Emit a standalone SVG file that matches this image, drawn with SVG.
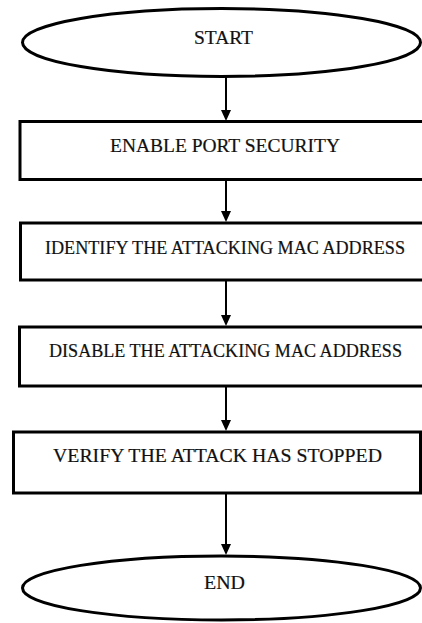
<svg xmlns="http://www.w3.org/2000/svg" width="422" height="623" viewBox="0 0 422 623">
<style>
.shape{fill:#fff;stroke:#000;stroke-width:3}
.lbl{font-family:"Liberation Serif","Times New Roman",serif;font-size:19px;fill:#111;stroke:#111;stroke-width:0.2;text-anchor:middle}
.conn{stroke:#000;stroke-width:2;fill:none}
.head{fill:#000}
</style>
<rect width="422" height="623" fill="#fff"/>
<g id="connectors">
<line class="conn" x1="226" y1="77" x2="226" y2="112"/>
<path class="head" d="M221,110 L231,110 L226,121 Z"/>
<line class="conn" x1="226" y1="180" x2="226" y2="213"/>
<path class="head" d="M221,211 L231,211 L226,222 Z"/>
<line class="conn" x1="226" y1="280" x2="226" y2="317"/>
<path class="head" d="M221,315 L231,315 L226,326 Z"/>
<line class="conn" x1="226" y1="386" x2="226" y2="422"/>
<path class="head" d="M221,420 L231,420 L226,431 Z"/>
<line class="conn" x1="226" y1="493" x2="226" y2="546"/>
<path class="head" d="M221,544 L231,544 L226,555 Z"/>
</g>
<g id="start">
<ellipse class="shape" cx="221.5" cy="42.5" rx="199" ry="34"/>
<text class="lbl" x="223.5" y="43.5" textLength="59" lengthAdjust="spacingAndGlyphs">START</text>
</g>
<g id="enable">
<rect class="shape" x="20" y="121.5" width="410" height="58"/>
<text class="lbl" x="225" y="151.5" textLength="230" lengthAdjust="spacingAndGlyphs">ENABLE PORT SECURITY</text>
</g>
<g id="identify">
<rect class="shape" x="20.5" y="223" width="410" height="57"/>
<text class="lbl" x="225" y="254" textLength="360" lengthAdjust="spacingAndGlyphs">IDENTIFY THE ATTACKING MAC ADDRESS</text>
</g>
<g id="disable">
<rect class="shape" x="19.5" y="327" width="410" height="59"/>
<text class="lbl" x="225.5" y="356.5" textLength="353" lengthAdjust="spacingAndGlyphs">DISABLE THE ATTACKING MAC ADDRESS</text>
</g>
<g id="verify">
<rect class="shape" x="13.5" y="432" width="407" height="61"/>
<text class="lbl" x="217.5" y="461.5" textLength="329" lengthAdjust="spacingAndGlyphs">VERIFY THE ATTACK HAS STOPPED</text>
</g>
<g id="end">
<ellipse class="shape" cx="221.5" cy="588" rx="199" ry="32"/>
<text class="lbl" x="224.5" y="589" textLength="41" lengthAdjust="spacingAndGlyphs">END</text>
</g>
</svg>
